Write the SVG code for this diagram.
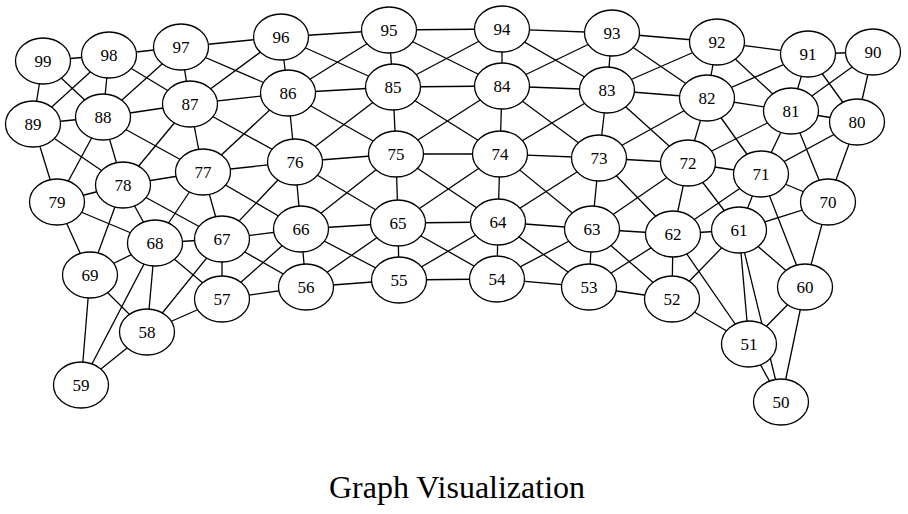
<svg xmlns="http://www.w3.org/2000/svg" width="908" height="514" viewBox="0 0 908 514">
<style>
.e line{stroke:#000;stroke-width:1.3}
.n ellipse{fill:#fff;stroke:#000;stroke-width:1.3}
.n text{font-family:"Liberation Serif","Times New Roman",serif;font-size:17px;text-anchor:middle;fill:#000}
.t{font-family:"Liberation Serif","Times New Roman",serif;font-size:32px;text-anchor:middle;fill:#000}
</style>
<rect width="908" height="514" fill="#fff"/>
<g id="edges" class="e">
<line x1="781" y1="402" x2="749" y2="344"/><line x1="749" y1="344" x2="672" y2="299"/><line x1="672" y1="299" x2="589" y2="287"/><line x1="589" y1="287" x2="497" y2="279"/><line x1="497" y1="279" x2="399" y2="280"/><line x1="399" y1="280" x2="306" y2="287"/><line x1="306" y1="287" x2="222" y2="299"/><line x1="222" y1="299" x2="147" y2="332"/><line x1="147" y1="332" x2="81" y2="385"/>
<line x1="805" y1="287" x2="739" y2="230"/><line x1="739" y1="230" x2="673" y2="234"/><line x1="673" y1="234" x2="592" y2="229"/><line x1="592" y1="229" x2="498" y2="222"/><line x1="498" y1="222" x2="398" y2="223"/><line x1="398" y1="223" x2="301" y2="229"/><line x1="301" y1="229" x2="222" y2="239"/><line x1="222" y1="239" x2="155" y2="243"/><line x1="155" y1="243" x2="90" y2="275"/>
<line x1="828" y1="202" x2="761" y2="174"/><line x1="761" y1="174" x2="688" y2="163"/><line x1="688" y1="163" x2="599" y2="158"/><line x1="599" y1="158" x2="500" y2="154"/><line x1="500" y1="154" x2="396" y2="154"/><line x1="396" y1="154" x2="295" y2="162"/><line x1="295" y1="162" x2="203" y2="172"/><line x1="203" y1="172" x2="123" y2="185"/><line x1="123" y1="185" x2="57" y2="202"/>
<line x1="857" y1="122" x2="791" y2="111"/><line x1="791" y1="111" x2="707" y2="98"/><line x1="707" y1="98" x2="607" y2="90"/><line x1="607" y1="90" x2="502" y2="86"/><line x1="502" y1="86" x2="393" y2="87"/><line x1="393" y1="87" x2="288" y2="93"/><line x1="288" y1="93" x2="190" y2="104"/><line x1="190" y1="104" x2="103" y2="117"/><line x1="103" y1="117" x2="33" y2="124"/>
<line x1="873" y1="52" x2="808" y2="54"/><line x1="808" y1="54" x2="717" y2="42"/><line x1="717" y1="42" x2="612" y2="33"/><line x1="612" y1="33" x2="502" y2="29"/><line x1="502" y1="29" x2="389" y2="30"/><line x1="389" y1="30" x2="281" y2="37"/><line x1="281" y1="37" x2="181" y2="47"/><line x1="181" y1="47" x2="109" y2="55"/><line x1="109" y1="55" x2="43" y2="61"/>
<line x1="781" y1="402" x2="805" y2="287"/><line x1="749" y1="344" x2="739" y2="230"/><line x1="672" y1="299" x2="673" y2="234"/><line x1="589" y1="287" x2="592" y2="229"/><line x1="497" y1="279" x2="498" y2="222"/><line x1="399" y1="280" x2="398" y2="223"/><line x1="306" y1="287" x2="301" y2="229"/><line x1="222" y1="299" x2="222" y2="239"/><line x1="147" y1="332" x2="155" y2="243"/><line x1="81" y1="385" x2="90" y2="275"/>
<line x1="805" y1="287" x2="828" y2="202"/><line x1="739" y1="230" x2="761" y2="174"/><line x1="673" y1="234" x2="688" y2="163"/><line x1="592" y1="229" x2="599" y2="158"/><line x1="498" y1="222" x2="500" y2="154"/><line x1="398" y1="223" x2="396" y2="154"/><line x1="301" y1="229" x2="295" y2="162"/><line x1="222" y1="239" x2="203" y2="172"/><line x1="155" y1="243" x2="123" y2="185"/><line x1="90" y1="275" x2="57" y2="202"/>
<line x1="828" y1="202" x2="857" y2="122"/><line x1="761" y1="174" x2="791" y2="111"/><line x1="688" y1="163" x2="707" y2="98"/><line x1="599" y1="158" x2="607" y2="90"/><line x1="500" y1="154" x2="502" y2="86"/><line x1="396" y1="154" x2="393" y2="87"/><line x1="295" y1="162" x2="288" y2="93"/><line x1="203" y1="172" x2="190" y2="104"/><line x1="123" y1="185" x2="103" y2="117"/><line x1="57" y1="202" x2="33" y2="124"/>
<line x1="857" y1="122" x2="873" y2="52"/><line x1="791" y1="111" x2="808" y2="54"/><line x1="707" y1="98" x2="717" y2="42"/><line x1="607" y1="90" x2="612" y2="33"/><line x1="502" y1="86" x2="502" y2="29"/><line x1="393" y1="87" x2="389" y2="30"/><line x1="288" y1="93" x2="281" y2="37"/><line x1="190" y1="104" x2="181" y2="47"/><line x1="103" y1="117" x2="109" y2="55"/><line x1="33" y1="124" x2="43" y2="61"/>
<line x1="781" y1="402" x2="739" y2="230"/><line x1="749" y1="344" x2="673" y2="234"/><line x1="672" y1="299" x2="592" y2="229"/><line x1="589" y1="287" x2="498" y2="222"/><line x1="497" y1="279" x2="398" y2="223"/><line x1="399" y1="280" x2="301" y2="229"/><line x1="306" y1="287" x2="222" y2="239"/><line x1="222" y1="299" x2="155" y2="243"/><line x1="147" y1="332" x2="90" y2="275"/>
<line x1="805" y1="287" x2="761" y2="174"/><line x1="739" y1="230" x2="688" y2="163"/><line x1="673" y1="234" x2="599" y2="158"/><line x1="592" y1="229" x2="500" y2="154"/><line x1="498" y1="222" x2="396" y2="154"/><line x1="398" y1="223" x2="295" y2="162"/><line x1="301" y1="229" x2="203" y2="172"/><line x1="222" y1="239" x2="123" y2="185"/><line x1="155" y1="243" x2="57" y2="202"/>
<line x1="828" y1="202" x2="791" y2="111"/><line x1="761" y1="174" x2="707" y2="98"/><line x1="688" y1="163" x2="607" y2="90"/><line x1="599" y1="158" x2="502" y2="86"/><line x1="500" y1="154" x2="393" y2="87"/><line x1="396" y1="154" x2="288" y2="93"/><line x1="295" y1="162" x2="190" y2="104"/><line x1="203" y1="172" x2="103" y2="117"/><line x1="123" y1="185" x2="33" y2="124"/>
<line x1="857" y1="122" x2="808" y2="54"/><line x1="791" y1="111" x2="717" y2="42"/><line x1="707" y1="98" x2="612" y2="33"/><line x1="607" y1="90" x2="502" y2="29"/><line x1="502" y1="86" x2="389" y2="30"/><line x1="393" y1="87" x2="281" y2="37"/><line x1="288" y1="93" x2="181" y2="47"/><line x1="190" y1="104" x2="109" y2="55"/><line x1="103" y1="117" x2="43" y2="61"/>
<line x1="749" y1="344" x2="805" y2="287"/><line x1="672" y1="299" x2="739" y2="230"/><line x1="589" y1="287" x2="673" y2="234"/><line x1="497" y1="279" x2="592" y2="229"/><line x1="399" y1="280" x2="498" y2="222"/><line x1="306" y1="287" x2="398" y2="223"/><line x1="222" y1="299" x2="301" y2="229"/><line x1="147" y1="332" x2="222" y2="239"/><line x1="81" y1="385" x2="155" y2="243"/>
<line x1="739" y1="230" x2="828" y2="202"/><line x1="673" y1="234" x2="761" y2="174"/><line x1="592" y1="229" x2="688" y2="163"/><line x1="498" y1="222" x2="599" y2="158"/><line x1="398" y1="223" x2="500" y2="154"/><line x1="301" y1="229" x2="396" y2="154"/><line x1="222" y1="239" x2="295" y2="162"/><line x1="155" y1="243" x2="203" y2="172"/><line x1="90" y1="275" x2="123" y2="185"/>
<line x1="761" y1="174" x2="857" y2="122"/><line x1="688" y1="163" x2="791" y2="111"/><line x1="599" y1="158" x2="707" y2="98"/><line x1="500" y1="154" x2="607" y2="90"/><line x1="396" y1="154" x2="502" y2="86"/><line x1="295" y1="162" x2="393" y2="87"/><line x1="203" y1="172" x2="288" y2="93"/><line x1="123" y1="185" x2="190" y2="104"/><line x1="57" y1="202" x2="103" y2="117"/>
<line x1="791" y1="111" x2="873" y2="52"/><line x1="707" y1="98" x2="808" y2="54"/><line x1="607" y1="90" x2="717" y2="42"/><line x1="502" y1="86" x2="612" y2="33"/><line x1="393" y1="87" x2="502" y2="29"/><line x1="288" y1="93" x2="389" y2="30"/><line x1="190" y1="104" x2="281" y2="37"/><line x1="103" y1="117" x2="181" y2="47"/><line x1="33" y1="124" x2="109" y2="55"/>
</g>
<g id="n50" class="n"><ellipse cx="781" cy="402" rx="27.5" ry="23"/><text x="781" y="408">50</text></g>
<g id="n51" class="n"><ellipse cx="749" cy="344" rx="27.5" ry="23"/><text x="749" y="350">51</text></g>
<g id="n52" class="n"><ellipse cx="672" cy="299" rx="27.5" ry="23"/><text x="672" y="305">52</text></g>
<g id="n53" class="n"><ellipse cx="589" cy="287" rx="27.5" ry="23"/><text x="589" y="293">53</text></g>
<g id="n54" class="n"><ellipse cx="497" cy="279" rx="27.5" ry="23"/><text x="497" y="285">54</text></g>
<g id="n55" class="n"><ellipse cx="399" cy="280" rx="27.5" ry="23"/><text x="399" y="286">55</text></g>
<g id="n56" class="n"><ellipse cx="306" cy="287" rx="27.5" ry="23"/><text x="306" y="293">56</text></g>
<g id="n57" class="n"><ellipse cx="222" cy="299" rx="27.5" ry="23"/><text x="222" y="305">57</text></g>
<g id="n58" class="n"><ellipse cx="147" cy="332" rx="27.5" ry="23"/><text x="147" y="338">58</text></g>
<g id="n59" class="n"><ellipse cx="81" cy="385" rx="27.5" ry="23"/><text x="81" y="391">59</text></g>
<g id="n60" class="n"><ellipse cx="805" cy="287" rx="27.5" ry="23"/><text x="805" y="293">60</text></g>
<g id="n61" class="n"><ellipse cx="739" cy="230" rx="27.5" ry="23"/><text x="739" y="236">61</text></g>
<g id="n62" class="n"><ellipse cx="673" cy="234" rx="27.5" ry="23"/><text x="673" y="240">62</text></g>
<g id="n63" class="n"><ellipse cx="592" cy="229" rx="27.5" ry="23"/><text x="592" y="235">63</text></g>
<g id="n64" class="n"><ellipse cx="498" cy="222" rx="27.5" ry="23"/><text x="498" y="228">64</text></g>
<g id="n65" class="n"><ellipse cx="398" cy="223" rx="27.5" ry="23"/><text x="398" y="229">65</text></g>
<g id="n66" class="n"><ellipse cx="301" cy="229" rx="27.5" ry="23"/><text x="301" y="235">66</text></g>
<g id="n67" class="n"><ellipse cx="222" cy="239" rx="27.5" ry="23"/><text x="222" y="245">67</text></g>
<g id="n68" class="n"><ellipse cx="155" cy="243" rx="27.5" ry="23"/><text x="155" y="249">68</text></g>
<g id="n69" class="n"><ellipse cx="90" cy="275" rx="27.5" ry="23"/><text x="90" y="281">69</text></g>
<g id="n70" class="n"><ellipse cx="828" cy="202" rx="27.5" ry="23"/><text x="828" y="208">70</text></g>
<g id="n71" class="n"><ellipse cx="761" cy="174" rx="27.5" ry="23"/><text x="761" y="180">71</text></g>
<g id="n72" class="n"><ellipse cx="688" cy="163" rx="27.5" ry="23"/><text x="688" y="169">72</text></g>
<g id="n73" class="n"><ellipse cx="599" cy="158" rx="27.5" ry="23"/><text x="599" y="164">73</text></g>
<g id="n74" class="n"><ellipse cx="500" cy="154" rx="27.5" ry="23"/><text x="500" y="160">74</text></g>
<g id="n75" class="n"><ellipse cx="396" cy="154" rx="27.5" ry="23"/><text x="396" y="160">75</text></g>
<g id="n76" class="n"><ellipse cx="295" cy="162" rx="27.5" ry="23"/><text x="295" y="168">76</text></g>
<g id="n77" class="n"><ellipse cx="203" cy="172" rx="27.5" ry="23"/><text x="203" y="178">77</text></g>
<g id="n78" class="n"><ellipse cx="123" cy="185" rx="27.5" ry="23"/><text x="123" y="191">78</text></g>
<g id="n79" class="n"><ellipse cx="57" cy="202" rx="27.5" ry="23"/><text x="57" y="208">79</text></g>
<g id="n80" class="n"><ellipse cx="857" cy="122" rx="27.5" ry="23"/><text x="857" y="128">80</text></g>
<g id="n81" class="n"><ellipse cx="791" cy="111" rx="27.5" ry="23"/><text x="791" y="117">81</text></g>
<g id="n82" class="n"><ellipse cx="707" cy="98" rx="27.5" ry="23"/><text x="707" y="104">82</text></g>
<g id="n83" class="n"><ellipse cx="607" cy="90" rx="27.5" ry="23"/><text x="607" y="96">83</text></g>
<g id="n84" class="n"><ellipse cx="502" cy="86" rx="27.5" ry="23"/><text x="502" y="92">84</text></g>
<g id="n85" class="n"><ellipse cx="393" cy="87" rx="27.5" ry="23"/><text x="393" y="93">85</text></g>
<g id="n86" class="n"><ellipse cx="288" cy="93" rx="27.5" ry="23"/><text x="288" y="99">86</text></g>
<g id="n87" class="n"><ellipse cx="190" cy="104" rx="27.5" ry="23"/><text x="190" y="110">87</text></g>
<g id="n88" class="n"><ellipse cx="103" cy="117" rx="27.5" ry="23"/><text x="103" y="123">88</text></g>
<g id="n89" class="n"><ellipse cx="33" cy="124" rx="27.5" ry="23"/><text x="33" y="130">89</text></g>
<g id="n90" class="n"><ellipse cx="873" cy="52" rx="27.5" ry="23"/><text x="873" y="58">90</text></g>
<g id="n91" class="n"><ellipse cx="808" cy="54" rx="27.5" ry="23"/><text x="808" y="60">91</text></g>
<g id="n92" class="n"><ellipse cx="717" cy="42" rx="27.5" ry="23"/><text x="717" y="48">92</text></g>
<g id="n93" class="n"><ellipse cx="612" cy="33" rx="27.5" ry="23"/><text x="612" y="39">93</text></g>
<g id="n94" class="n"><ellipse cx="502" cy="29" rx="27.5" ry="23"/><text x="502" y="35">94</text></g>
<g id="n95" class="n"><ellipse cx="389" cy="30" rx="27.5" ry="23"/><text x="389" y="36">95</text></g>
<g id="n96" class="n"><ellipse cx="281" cy="37" rx="27.5" ry="23"/><text x="281" y="43">96</text></g>
<g id="n97" class="n"><ellipse cx="181" cy="47" rx="27.5" ry="23"/><text x="181" y="53">97</text></g>
<g id="n98" class="n"><ellipse cx="109" cy="55" rx="27.5" ry="23"/><text x="109" y="61">98</text></g>
<g id="n99" class="n"><ellipse cx="43" cy="61" rx="27.5" ry="23"/><text x="43" y="67">99</text></g>
<text class="t" x="457" y="498">Graph Visualization</text>
</svg>
